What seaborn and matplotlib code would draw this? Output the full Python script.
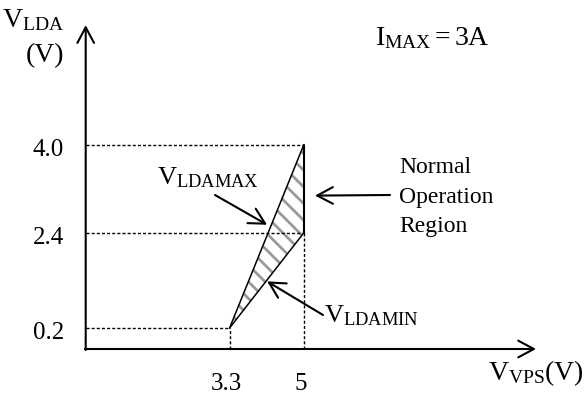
import numpy as np
import matplotlib
matplotlib.use('Agg')
import matplotlib.pyplot as plt
import seaborn as sns

# operating window of the laser driver (volts)
vps = [3.3, 5.0]            # supply voltage V_VPS
lda_max = [0.2, 4.0]        # V_LDAMAX at each supply voltage
lda_min = [0.2, 2.4]        # V_LDAMIN at each supply voltage
x_ticks = [3.3, 5.0]
x_tick_labels = ['3.3', '5']
y_ticks = [0.2, 2.4, 4.0]
y_tick_labels = ['0.2', '2.4', '4.0']
y_guide_ends = [3.3, 5.0, 5.0]   # where each dotted guide stops
x_guide_tops = [0.2, 2.4]        # where each dotted drop line stops
region_lines = ['Normal', 'Operation', 'Region']

sns.set_theme(style='white')
plt.rcParams['font.family'] = ['Liberation Serif', 'DejaVu Serif']
plt.rcParams['text.color'] = 'black'
plt.rcParams['mathtext.fontset'] = 'custom'
plt.rcParams['mathtext.rm'] = 'Liberation Serif'
plt.rcParams['mathtext.it'] = 'Liberation Serif:italic'
plt.rcParams['hatch.linewidth'] = 2.0

W, H = 586, 400


def px(x, y):
    # pixel (from top-left) -> axes fraction
    return (x / W, 1 - y / H)


# the y axis of the sketch is not to scale
y_knots = [-2.0, 0.0, 0.2, 2.4, 4.0, 6.6]
y_pix = [0, 51, 72, 167, 255, 400]


def fwd(v):
    return np.interp(v, y_knots, y_pix)


def inv(p):
    return np.interp(p, y_pix, y_knots)


fig = plt.figure(figsize=(W / 100, H / 100), dpi=100)
ax = fig.add_axes([0, 0, 1, 1])

# hatched operating region
ax.fill_between(vps, lda_min, lda_max, facecolor='white', edgecolor='#9a9a9a',
                lw=0, hatch='\\\\')
sns.lineplot(x=vps, y=lda_max, color='black', lw=1.1, ax=ax)
sns.lineplot(x=vps, y=lda_min, color='black', lw=1.1, ax=ax)
ax.plot([vps[1], vps[1]], [lda_min[1], lda_max[1]], color='black', lw=1.5)

ax.set_yscale('function', functions=(fwd, inv))
ax.set_xlim(-85.7 / 43.6, (W - 85.7) / 43.6)
ax.set_ylim(y_knots[0], y_knots[-1])
ax.axis('off')

# dotted guides
dot = dict(color='black', lw=1.0, ls=(0, (2.2, 1.5)))
for v, xe in zip(y_ticks, y_guide_ends):
    ax.plot([0, xe], [v, v], **dot)
for xv, yt in zip(x_ticks, x_guide_tops):
    ax.plot([xv, xv], [0, yt], **dot)

# axes with open arrow heads
arrow = dict(arrowstyle='->,head_length=0.75,head_width=0.4', lw=1.5,
             color='black', shrinkA=0, shrinkB=0, mutation_scale=15)
ax.annotate('', xy=(10.33, 0), xytext=(-0.02, 0), arrowprops=arrow)
ax.annotate('', xy=(0, 6.15), xytext=(0, -0.04), arrowprops=arrow)

# tick labels
for v, lab in zip(y_ticks, y_tick_labels):
    ax.annotate(lab, xy=(0, v), xytext=(-15.5, -8), textcoords='offset points',
                ha='right', va='baseline', fontsize=18)
for v, lab in zip(x_ticks, x_tick_labels):
    ax.annotate(lab, xy=(v, 0), xytext=(-2, -29.5), textcoords='offset points',
                ha='center', va='baseline', fontsize=18)

tr = dict(transform=ax.transAxes, va='baseline')
# axis titles
ax.text(*px(64, 27), r'$\mathrm{V_{LDA}}$', ha='right', fontsize=20, **tr)
ax.text(*px(64, 62), '(V)', ha='right', fontsize=20, **tr)
ax.text(*px(488, 380), r'$\mathrm{V_{VPS}}$(V)', ha='left', fontsize=20, **tr)
ax.text(*px(375, 45), r'$\mathrm{I_{MAX}=3A}$', ha='left', fontsize=20, **tr)

# callouts
ax.text(*px(157, 184), r'$\mathrm{V_{LDAMAX}}$', ha='left', fontsize=19, **tr)
ax.text(*px(324, 322), r'$\mathrm{V_{LDAMIN}}$', ha='left', fontsize=19, **tr)
for i, line in enumerate(region_lines):
    ax.text(*px(399, 173 + 29.5 * i), line, ha='left', fontsize=17, **tr)

ax.annotate('', xy=(4.16, 2.55), xytext=px(215, 195), textcoords='axes fraction',
            arrowprops=arrow)
ax.annotate('', xy=(4.16, 1.28), xytext=px(323, 315), textcoords='axes fraction',
            arrowprops=arrow)
ax.annotate('', xy=(5.26, 3.08), xytext=px(390, 195), textcoords='axes fraction',
            arrowprops=arrow)

fig.savefig('out.png', dpi=100, facecolor='white')
